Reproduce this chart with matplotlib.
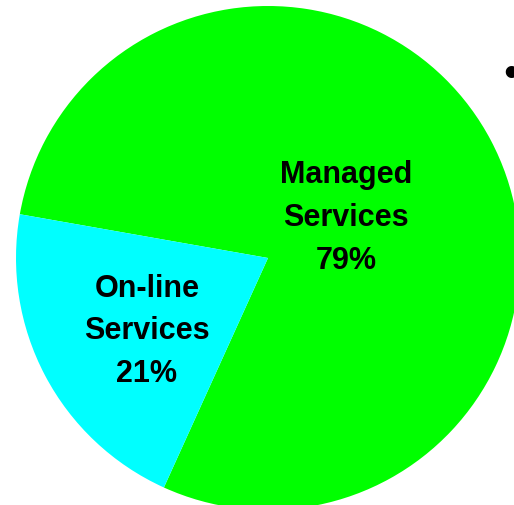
import matplotlib
matplotlib.use("Agg")
import matplotlib.pyplot as plt
import numpy as np

labels = ["Managed\nServices", "On-line\nServices"]
values = [79, 21]
colors = ["#00FF00", "#00FFFF"]
label_dist = [0.35, 0.56]
label_angle_offset = [0, 3]

W, H = 514, 506
fig = plt.figure(figsize=(W / 100, H / 100), dpi=100)
ax = fig.add_axes([0, 0, 1, 1])

cx, cy, r = 268, H - 259, 252
wedges, _ = ax.pie(values, colors=colors, startangle=245.6, counterclock=True,
                   radius=r, center=(cx, cy), wedgeprops=dict(linewidth=0))
total = sum(values)
for w, lab, v, d, off in zip(wedges, labels, values, label_dist, label_angle_offset):
    ang = np.deg2rad((w.theta1 + w.theta2) / 2 + off)
    x = cx + d * r * np.cos(ang)
    y = cy + d * r * np.sin(ang)
    ax.text(x, y, f"{lab}\n{round(v / total * 100)}%", ha="center", va="center",
            fontsize=22, fontweight="bold", family=["Liberation Sans", "DejaVu Sans"],
            linespacing=1.55, color="black")

ax.set_xlim(0, W)
ax.set_ylim(0, H)
ax.set_aspect("equal")
ax.axis("off")

fig.text(511 / W, 1 - 75 / H, "•", ha="center", va="center", fontsize=32,
         family=["Liberation Sans", "DejaVu Sans"], color="black")

fig.savefig("out.png", dpi=100)
